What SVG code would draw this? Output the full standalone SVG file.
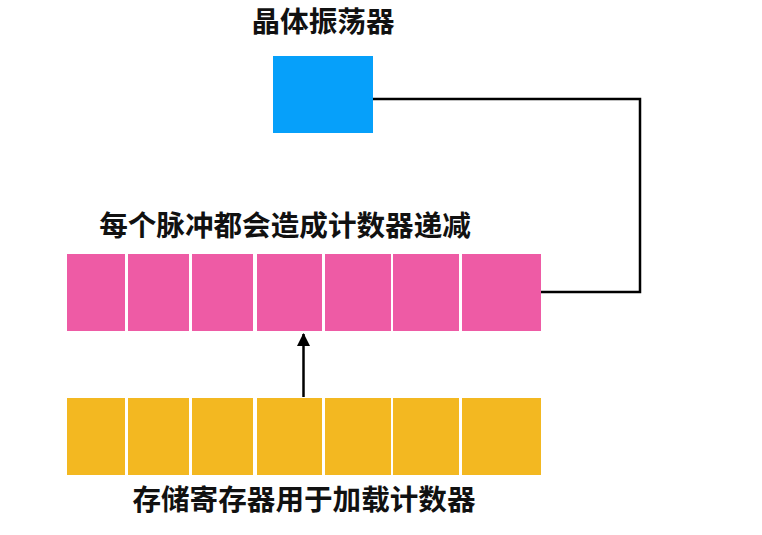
<svg xmlns="http://www.w3.org/2000/svg" width="762" height="535" viewBox="0 0 762 535">
<style>
.t{font-family:"Noto Sans CJK SC","Noto Sans",sans-serif;font-weight:bold;font-size:28.6px;fill:#111;text-anchor:middle}
.pink{fill:#EE5BA5}
.yel{fill:#F3B821}
.ln{fill:none;stroke:#000;stroke-width:2.5}
</style>
<defs>
<marker id="ah" markerWidth="13" markerHeight="13" refX="12" refY="6.5" orient="auto" markerUnits="userSpaceOnUse">
<path d="M0,0 L13,6.5 L0,13 Z" fill="#000"/>
</marker>
</defs>
<rect width="762" height="535" fill="#fff"/>
<g id="oscillator">
<text class="t" x="323" y="32">晶体振荡器</text>
<rect x="273" y="56" width="100" height="77" fill="#06A0FA"/>
</g>
<g id="counter">
<text class="t" x="285" y="236">每个脉冲都会造成计数器递减</text>
<rect class="pink" x="67" y="254" width="58" height="77"/>
<rect class="pink" x="128" y="254" width="61" height="77"/>
<rect class="pink" x="192" y="254" width="61" height="77"/>
<rect class="pink" x="257" y="254" width="65" height="77"/>
<rect class="pink" x="325" y="254" width="66" height="77"/>
<rect class="pink" x="393" y="254" width="66" height="77"/>
<rect class="pink" x="462" y="254" width="79" height="77"/>
</g>
<g id="register">
<rect class="yel" x="67" y="398" width="58" height="77"/>
<rect class="yel" x="128" y="398" width="61" height="77"/>
<rect class="yel" x="192" y="398" width="61" height="77"/>
<rect class="yel" x="257" y="398" width="65" height="77"/>
<rect class="yel" x="325" y="398" width="66" height="77"/>
<rect class="yel" x="393" y="398" width="66" height="77"/>
<rect class="yel" x="462" y="398" width="79" height="77"/>
<text class="t" x="304" y="510">存储寄存器用于加载计数器</text>
</g>
<g id="connectors">
<polyline class="ln" points="373,99 640,99 640,292 541,292"/>
<line class="ln" x1="303.5" y1="397" x2="303.5" y2="334" marker-end="url(#ah)"/>
</g>
</svg>
